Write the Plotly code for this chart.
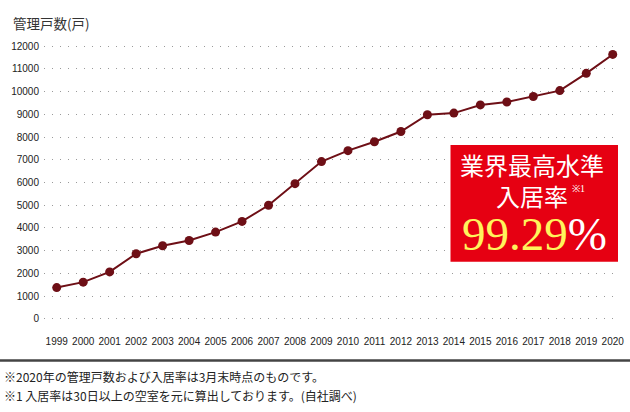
import plotly.graph_objects as go

years = list(range(1999, 2021))
units = [1380, 1620, 2070, 2870, 3220, 3450, 3820, 4290, 5000, 5950,
         6920, 7400, 7790, 8240, 8980, 9050, 9410, 9540, 9780, 10040,
         10800, 11630]
y_ticks = list(range(0, 13000, 1000))

W, H = 630, 412
L, R = 44, 613
T, B = 39.2, 325.8

fig = go.Figure()
fig.add_trace(go.Scatter(
    x=years, y=units, mode="lines+markers",
    line=dict(color="#6e0f16", width=2),
    marker=dict(color="#6e0f16", size=9),
    cliponaxis=False, hoverinfo="skip", showlegend=False,
))

fig.update_layout(
    template="none",
    width=W, height=H, autosize=False,
    margin=dict(l=0, r=0, t=0, b=0, pad=0, autoexpand=False),
    paper_bgcolor="white", plot_bgcolor="white",
    font=dict(family="Liberation Sans, Arial, sans-serif", color="#333", size=10),
    xaxis=dict(
        domain=[L / W, R / W],
        range=[1998.52, 2020.01],
        tickvals=years, ticktext=[str(y) for y in years],
        showgrid=False, zeroline=False, showline=False, automargin=False,
        ticks="outside", ticklen=6, tickcolor="rgba(0,0,0,0)",
        tickfont=dict(size=10, color="#222"),
        fixedrange=True,
    ),
    yaxis=dict(
        domain=[1 - B / H, 1 - T / H],
        range=[-300, 12300],
        tickvals=y_ticks, ticktext=[str(v) for v in y_ticks],
        showgrid=True, gridcolor="#9a9a9a", gridwidth=1.3, griddash="1.3px,6.7px",
        zeroline=False, showline=False, automargin=False,
        ticks="outside", ticklen=2, tickcolor="rgba(0,0,0,0)",
        tickfont=dict(size=10, color="#222"),
        fixedrange=True,
    ),
)

shapes = [
    dict(type="rect", xref="paper", yref="paper",
         x0=450.5 / W, x1=618 / W, y0=1 - 261.7 / H, y1=1 - 145 / H,
         fillcolor="#e60012", line=dict(width=0), layer="above"),
    dict(type="line", xref="paper", yref="paper",
         x0=0, x1=1, y0=1 - 360.5 / H, y1=1 - 360.5 / H,
         line=dict(color="#444", width=2.5)),
]
fig.update_layout(shapes=shapes)

def ann(text, px, py, size, color, family, xanchor="center"):
    fig.add_annotation(
        text=text, xref="paper", yref="paper",
        x=px / W, y=1 - py / H, xanchor=xanchor, yanchor="middle",
        showarrow=False, borderpad=0,
        font=dict(size=size, color=color, family=family),
    )

cjk = "Noto Sans CJK JP"
serif = "Liberation Serif"

ann("管理戸数(戸)", 12, 22.5, 13.5, "#333", cjk, xanchor="left")
ann("業界最高水準<br>入居率", 532, 180, 24, "white", cjk)
ann("※1", 571, 188, 10, "white", serif, xanchor="left")
ann('<span style="color:#fff35c">99.29</span>%', 534, 234, 47, "white", serif)
ann("※2020年の管理戸数および入居率は3月末時点のものです。", 3, 376.5, 12, "#222", cjk, xanchor="left")
ann("※1 入居率は30日以上の空室を元に算出しております。(自社調べ)", 3, 395, 12, "#222", cjk, xanchor="left")

fig.write_html(
    "out.html",
    config={"displayModeBar": False},
    post_script="document.body.style.margin='0';document.body.style.overflow='hidden';",
)
